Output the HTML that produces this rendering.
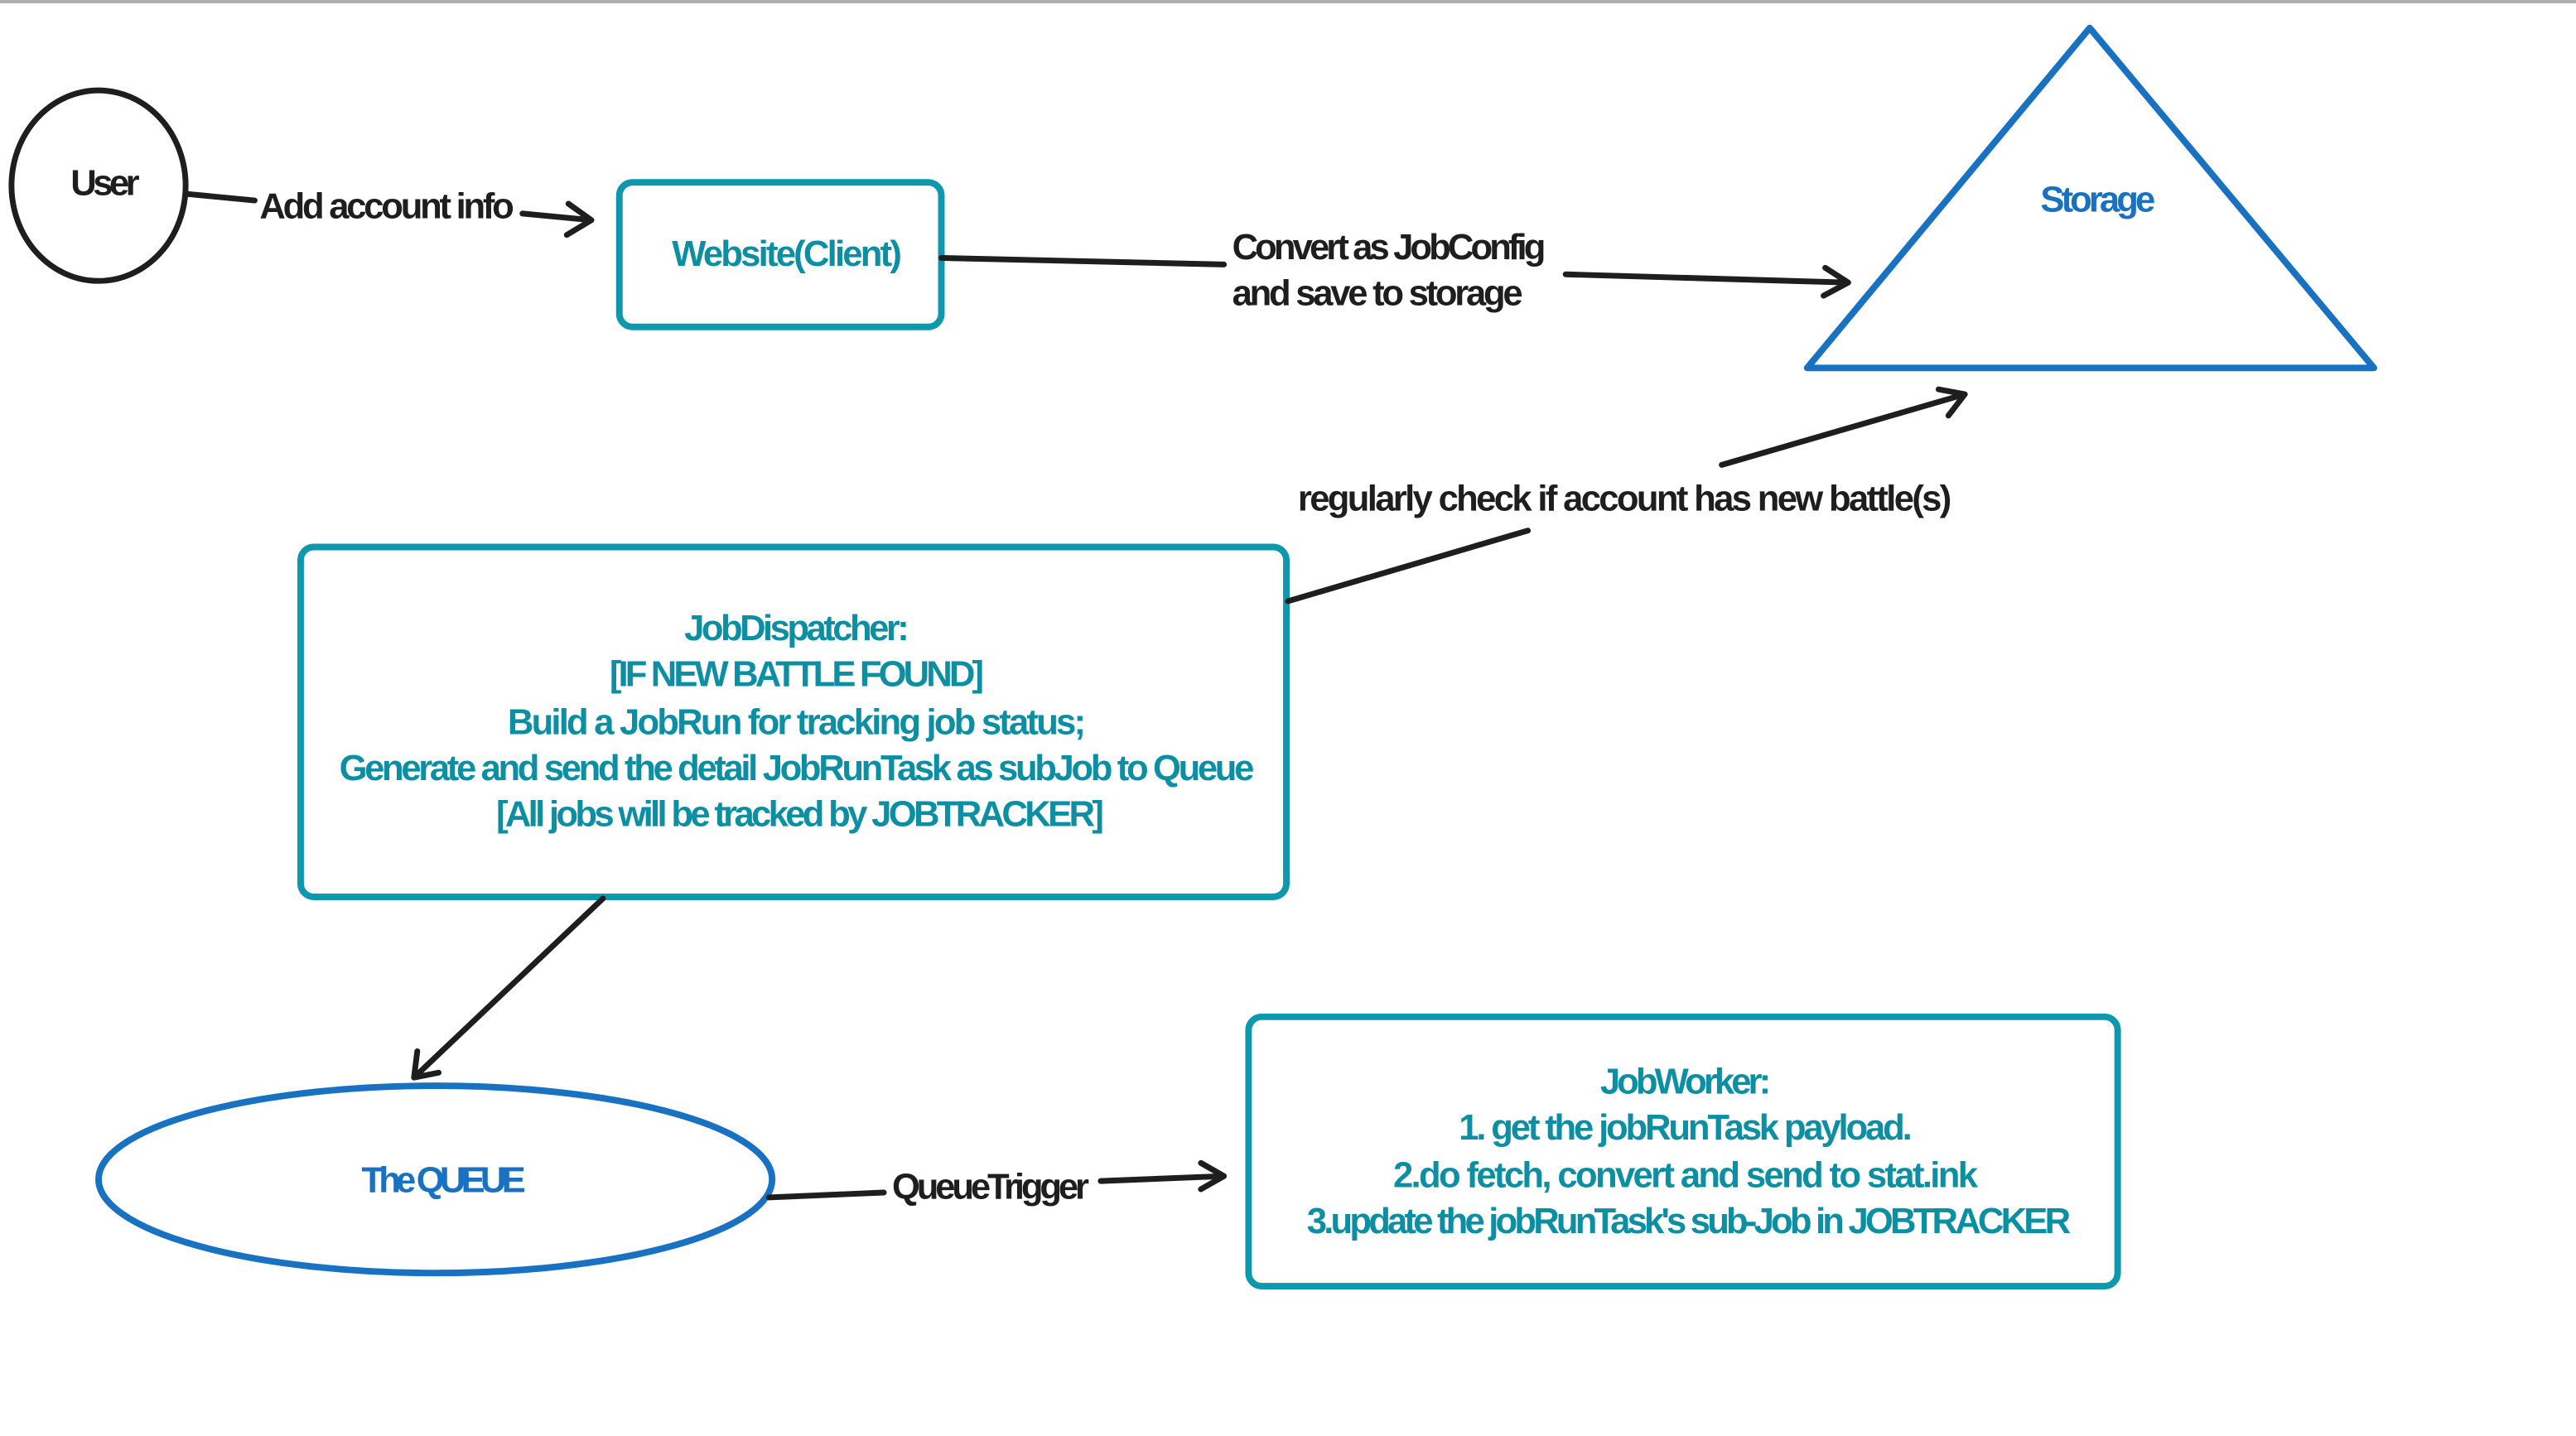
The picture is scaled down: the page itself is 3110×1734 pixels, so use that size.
<!DOCTYPE html>
<html><head><meta charset="utf-8"><style>
html,body{margin:0;padding:0;background:#fff;}
svg{display:block;}
text{font-family:"Liberation Sans Narrow","Liberation Sans",sans-serif;font-size:22px;font-weight:bold;dominant-baseline:middle;}
.k{fill:#1e1e1e;}
.t{fill:#0c8fa3;text-anchor:middle;}
.b{fill:#1971c2;text-anchor:middle;}
</style></head><body>
<svg width="3110" height="1734" viewBox="0 0 1568 874.2" xmlns="http://www.w3.org/2000/svg">
<line x1="0" y1="1" x2="1568" y2="1" stroke="#b0b0b4" stroke-width="2"/>
<g fill="none" stroke-linecap="round" stroke-linejoin="round">
<ellipse cx="60" cy="113" rx="53" ry="58" stroke="#1e1e1e" stroke-width="3.5"/>
<rect x="377" y="111" width="196" height="88" rx="8" stroke="#0e98ad" stroke-width="4"/>
<polygon points="1272,17 1100,224 1445,224" stroke="#1971c2" stroke-width="4"/>
<rect x="183" y="333" width="600" height="213" rx="8" stroke="#0e98ad" stroke-width="4"/>
<ellipse cx="265" cy="718" rx="205" ry="57" stroke="#1971c2" stroke-width="4"/>
<rect x="760" y="619" width="529" height="164" rx="8" stroke="#0e98ad" stroke-width="4"/>
<g stroke="#1e1e1e" stroke-width="3.5">
<path d="M113 118 L155 122"/><path d="M318 130 L360 134 M346 124 L360 134 L345 143"/>
<path d="M573 157 L745 161"/><path d="M953 167 L1125 172 M1111 163 L1125 172 L1110 180"/>
<path d="M784 366 L930 323"/><path d="M1048 283 L1196 240 M1180 237 L1196 240 L1186 253"/>
<path d="M367 547 L252 656 M254 640 L252 656 L267 653"/>
<path d="M468 729 L538 726"/><path d="M670 719 L745 716 M731 708 L745 716 L731 724"/>
</g>
</g>
<text class="k" x="43" y="113" textLength="42">User</text>
<text class="k" x="158" y="127" textLength="155">Add account info</text>
<text class="t" x="479" y="156" textLength="140">Website(Client)</text>
<text class="k" x="750" y="152" textLength="191">Convert as JobConfig</text>
<text class="k" x="750" y="180" textLength="177">and save to storage</text>
<text class="b" x="1277" y="123" textLength="70">Storage</text>
<text class="k" x="790" y="305" textLength="398">regularly check if account has new battle(s)</text>
<text class="t" x="485" y="384" textLength="137">JobDispatcher:</text>
<text class="t" x="485" y="412" textLength="228">[IF NEW BATTLE FOUND]</text>
<text class="t" x="485" y="441" textLength="352">Build a JobRun for tracking job status;</text>
<text class="t" x="485" y="469" textLength="557">Generate and send the detail JobRunTask as subJob to Queue</text>
<text class="t" x="487" y="497" textLength="370">[All jobs will be tracked by JOBTRACKER]</text>
<text class="b" x="270" y="720" textLength="100">The QUEUE</text>
<text class="k" x="543" y="724" textLength="120">QueueTrigger</text>
<text class="t" x="1026" y="660" textLength="104">JobWorker:</text>
<text class="t" x="1026" y="688" textLength="276">1. get the jobRunTask payload.</text>
<text class="t" x="1026" y="717" textLength="356">2.do fetch, convert and send to stat.ink</text>
<text class="t" x="1028" y="745" textLength="465">3.update the jobRunTask's sub-Job in JOBTRACKER</text>
</svg>
</body></html>
